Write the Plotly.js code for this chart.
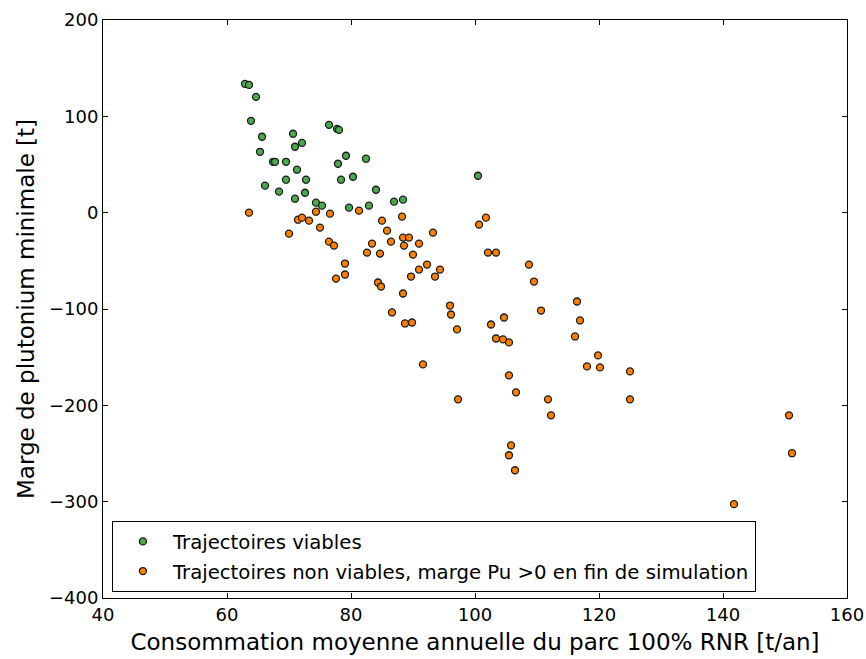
<!DOCTYPE html>
<html>
<head>
<meta charset="utf-8">
<script src="https://cdn.plot.ly/plotly-3.0.1.min.js"></script>
<style>html,body{margin:0;padding:0;background:#fff;}</style>
</head>
<body>
<div id="chart" style="width:866px;height:659px;"></div>
<script>
const viableX = [62.9,63.55,64.68,63.87,65.65,65.32,67.42,67.74,69.52,70.65,72.1,70.97,71.29,72.74,69.52,66.13,68.39,70.97,72.58,74.35,75.32,76.45,77.74,78.06,79.19,77.9,78.39,80.32,82.42,84.03,79.68,82.9,86.94,88.39,100.48];
const viableY = [133.7,132.6,120.2,95.3,78.8,63.2,52.8,52.8,52.8,81.9,72.5,68.4,44.6,34.2,34.2,28.0,21.8,14.5,20.7,10.4,7.3,91.2,87.0,86.0,59.1,50.8,34.2,37.3,56.0,23.8,5.2,7.3,11.4,13.5,38.3];

const nonViableX = [63.55,71.45,72.1,73.23,74.35,76.61,75.0,70.0,76.45,77.26,81.29,85.0,88.23,85.81,83.39,82.58,84.68,86.45,88.39,89.35,88.55,90.97,90.0,93.23,79.03,79.03,77.58,84.35,84.84,89.68,90.97,92.26,93.55,94.35,88.39,86.61,88.71,89.84,95.97,96.13,97.1,91.61,97.26,101.77,100.65,102.1,103.39,108.71,109.52,104.68,102.58,103.39,104.52,105.48,110.65,116.45,116.94,116.13,119.84,118.06,120.16,125.0,125.0,105.48,106.61,111.77,112.26,105.81,105.48,106.45,150.65,151.13,141.77];
const nonViableY = [0.0,-7.3,-5.2,-8.3,1.0,-1.0,-15.5,-21.8,-30.1,-34.2,2.1,-8.3,-4.1,-18.7,-32.1,-41.5,-42.5,-30.1,-25.9,-25.9,-34.2,-32.1,-43.5,-20.7,-52.8,-64.2,-68.4,-72.5,-76.7,-66.3,-59.1,-53.9,-66.3,-59.1,-83.9,-103.6,-115.0,-114.0,-96.4,-105.7,-121.2,-157.5,-193.8,-5.2,-12.4,-41.5,-41.5,-53.9,-71.5,-108.8,-116.1,-130.6,-131.6,-134.7,-101.6,-92.2,-111.9,-128.5,-148.2,-159.6,-160.6,-164.8,-193.8,-168.9,-186.5,-193.8,-210.4,-241.5,-251.8,-267.4,-210.4,-249.7,-302.6];

const seriesNames = ["Trajectoires viables", "Trajectoires non viables, marge Pu >0 en fin de simulation"];
const xTicks = [40,60,80,100,120,140,160];
const yTicks = [-400,-300,-200,-100,0,100,200];

const mk = (c) => ({size: 7, color: c, line: {color: '#1a1a1a', width: 1.3}});
const data = [
  {x: viableX, y: viableY, mode: 'markers', type: 'scatter', name: seriesNames[0], legendgroup: 'a', marker: mk('#4aab4a')},
  {x: nonViableX, y: nonViableY, mode: 'markers', type: 'scatter', name: seriesNames[1], legendgroup: 'b', marker: mk('#ff8000')}
];
const axisCommon = {
  showline: true, linecolor: '#000', linewidth: 1, mirror: 'ticks',
  ticks: 'inside', ticklen: 5, tickcolor: '#000', tickwidth: 1,
  showgrid: false, zeroline: false,
  tickfont: {family: 'DejaVu Sans', size: 18, color: '#000'}
};
const layout = {
  width: 866, height: 659,
  margin: {l: 103, r: 19, t: 20, b: 61},
  paper_bgcolor: '#fff', plot_bgcolor: '#fff',
  font: {family: 'DejaVu Sans', color: '#000'},
  showlegend: true,
  xaxis: Object.assign({}, axisCommon, {
    range: [40, 160], tickvals: xTicks, ticktext: xTicks.map(String),
    title: {text: 'Consommation moyenne annuelle du parc 100% RNR [t/an]', font: {family: 'DejaVu Sans', size: 23, color: '#000'}, standoff: 10}
  }),
  yaxis: Object.assign({}, axisCommon, {
    range: [-400, 200], tickvals: yTicks, ticktext: yTicks.map(v => v < 0 ? '\u2212' + Math.abs(v) : String(v)),
    title: {text: 'Marge de plutonium minimale [t]', font: {family: 'DejaVu Sans', size: 23, color: '#000'}, standoff: 7}
  }),
  legend: {
    x: 0.012, y: 0.133, xanchor: 'left', yanchor: 'top',
    bordercolor: '#000', borderwidth: 1, bgcolor: '#fff',
    font: {family: 'DejaVu Sans', size: 19.7, color: '#000'},
    itemsizing: 'trace', itemwidth: 50, tracegroupgap: 1
  }
};
Plotly.newPlot('chart', data, layout, {displayModeBar: false, staticPlot: true});
</script>
</body>
</html>
